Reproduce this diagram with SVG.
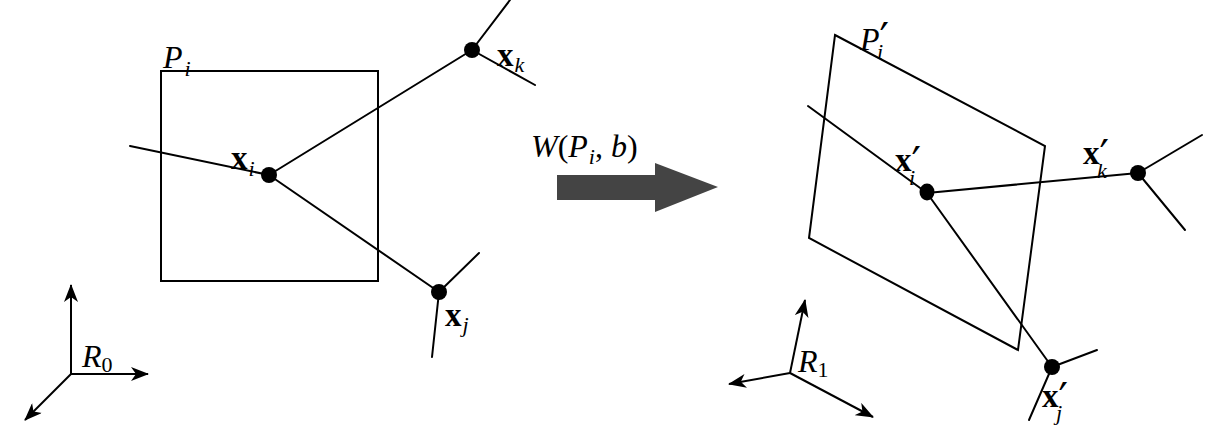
<svg xmlns="http://www.w3.org/2000/svg" width="1211" height="435" viewBox="0 0 1211 435">
<style>
.ln{stroke:#000;stroke-width:2;fill:none;stroke-linecap:round;stroke-linejoin:miter}
.ax{stroke:#000;stroke-width:2;fill:none;marker-end:url(#ah)}
.nd{fill:#000}
.bx{font-family:"Liberation Serif",serif;font-weight:bold;font-size:33px;fill:#000}
.it{font-family:"Liberation Serif",serif;font-style:italic;font-size:32px;fill:#000}
.sb{font-family:"Liberation Serif",serif;font-style:italic;font-weight:normal;font-size:22px}
.sn{font-family:"Liberation Serif",serif;font-style:normal;font-size:22px}
.pr{font-family:"DejaVu Sans",sans-serif;font-style:normal;font-weight:normal;font-size:42px}
.rm{font-style:normal}
</style>
<defs>
<marker id="ah" viewBox="0 0 18 14" markerWidth="18" markerHeight="14" refX="17" refY="7" orient="auto" markerUnits="userSpaceOnUse">
<path d="M0,0 L18,7 L0,14 L5,7 Z" fill="#000"/>
</marker>
</defs>
<rect width="1211" height="435" fill="#fff"/>

<g id="patch-Pi">
<rect x="161" y="71" width="217" height="210" class="ln"/>
<text x="163" y="68" class="it">P<tspan class="sb" dx="2" dy="8">i</tspan></text>
</g>

<g id="patch-Pi-prime">
<polygon points="835,35 1045,146 1018,350 809,238" class="ln"/>
<text x="860" y="50" class="it">P<tspan class="pr" dx="0" dy="3">′</tspan><tspan class="sb" dx="-12" dy="6">i</tspan></text>
</g>

<g id="connectors">
<line x1="130" y1="146" x2="269" y2="175" class="ln"/>
<line x1="269" y1="175" x2="472" y2="50" class="ln"/>
<line x1="472" y1="50" x2="510" y2="0" class="ln"/>
<line x1="472" y1="50" x2="535" y2="85" class="ln"/>
<line x1="269" y1="175" x2="439" y2="292" class="ln"/>
<line x1="439" y1="292" x2="479" y2="253" class="ln"/>
<line x1="439" y1="292" x2="432" y2="357" class="ln"/>

<line x1="808" y1="106" x2="927" y2="193" class="ln"/>
<line x1="927" y1="193" x2="1138" y2="173" class="ln"/>
<line x1="1138" y1="173" x2="1202" y2="135" class="ln"/>
<line x1="1138" y1="173" x2="1185" y2="230" class="ln"/>
<line x1="927" y1="193" x2="1052" y2="367" class="ln"/>
<line x1="1052" y1="367" x2="1097" y2="350" class="ln"/>
<line x1="1052" y1="367" x2="1029" y2="420" class="ln"/>
</g>

<g id="node-xi">
<circle cx="269" cy="175" r="8" class="nd"/>
<text x="231" y="169" class="bx">x<tspan class="sb" dx="1" dy="7">i</tspan></text>
</g>
<g id="node-xk">
<circle cx="472" cy="50" r="8" class="nd"/>
<text x="497" y="66" class="bx">x<tspan class="sb" dx="1" dy="6">k</tspan></text>
</g>
<g id="node-xj">
<circle cx="439" cy="292" r="8" class="nd"/>
<text x="445" y="326" class="bx">x<tspan class="sb" dx="1" dy="6">j</tspan></text>
</g>

<g id="node-xi-prime">
<ellipse cx="927" cy="192" rx="7.5" ry="8.5" class="nd"/>
<text x="895" y="171" class="bx">x<tspan class="pr" dx="0" dy="6">′</tspan><tspan class="sb" dx="-12" dy="8">i</tspan></text>
</g>
<g id="node-xk-prime">
<circle cx="1138" cy="173" r="8" class="nd"/>
<text x="1083" y="164" class="bx">x<tspan class="pr" dx="0" dy="6">′</tspan><tspan class="sb" dx="-12" dy="8">k</tspan></text>
</g>
<g id="node-xj-prime">
<circle cx="1052" cy="367" r="8" class="nd"/>
<text x="1042" y="407" class="bx">x<tspan class="pr" dx="0" dy="6">′</tspan><tspan class="sb" dx="-12" dy="7">j</tspan></text>
</g>

<g id="transform-arrow">
<polygon points="557,175 655,175 655,163 718,187 655,212 655,200 557,200" fill="#444"/>
<text x="531" y="157" class="it">W<tspan class="rm">(</tspan>P<tspan class="sb" dx="1" dy="7">i</tspan><tspan class="rm" dy="-7">, </tspan>b<tspan class="rm">)</tspan></text>
</g>

<g id="frame-R0">
<line x1="71" y1="374" x2="71" y2="285" class="ax"/>
<line x1="71" y1="374" x2="148" y2="374" class="ax"/>
<line x1="71" y1="374" x2="25" y2="420" class="ax"/>
<text x="82" y="367" class="it">R<tspan class="sn" dy="5">0</tspan></text>
</g>

<g id="frame-R1">
<line x1="790" y1="373" x2="805" y2="300" class="ax"/>
<line x1="790" y1="373" x2="729" y2="384" class="ax"/>
<line x1="790" y1="373" x2="873" y2="417" class="ax"/>
<text x="798" y="372" class="it">R<tspan class="sn" dy="5">1</tspan></text>
</g>
</svg>
